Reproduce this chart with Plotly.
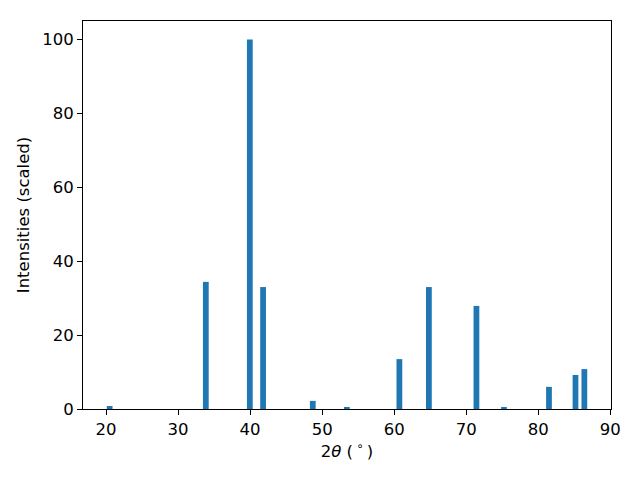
import plotly.graph_objects as go

two_theta = [20.5, 33.85, 39.96, 41.8, 48.7, 53.43, 60.72, 64.82, 71.42, 75.24, 81.49, 85.17, 86.4]
intensity = [0.8, 34.4, 100.0, 33.0, 2.2, 0.35, 13.5, 33.0, 27.9, 0.35, 6.0, 9.2, 10.8]

fig = go.Figure()
fig.add_trace(go.Bar(x=two_theta, y=intensity, width=0.8,
                     marker=dict(color="#1f77b4", line=dict(width=0))))

FONT = "DejaVu Sans"
FS = 16.5
axis_common = dict(showline=True, linecolor="black", linewidth=1, mirror=True,
                   ticks="outside", ticklen=5, tickwidth=1, tickcolor="black",
                   showgrid=False, zeroline=False,
                   tickfont=dict(family=FONT, size=FS, color="black"))

fig.update_layout(
    width=632, height=472,
    paper_bgcolor="white", plot_bgcolor="white",
    margin=dict(l=75, r=29, t=13, b=71),
    showlegend=False,
    font=dict(family=FONT, size=FS, color="black"),
    xaxis=dict(range=[16.8, 90.1], tickvals=[20, 30, 40, 50, 60, 70, 80, 90],
               title=dict(text="2<i>θ</i> (\u2009<sup>∘</sup>\u2009)", font=dict(family=FONT, size=FS), standoff=6),
               **axis_common),
    yaxis=dict(range=[0, 105], tickvals=[0, 20, 40, 60, 80, 100],
               title=dict(text="Intensities (scaled)", font=dict(family=FONT, size=FS), standoff=8),
               **axis_common),
)

fig.write_html("out.html")
